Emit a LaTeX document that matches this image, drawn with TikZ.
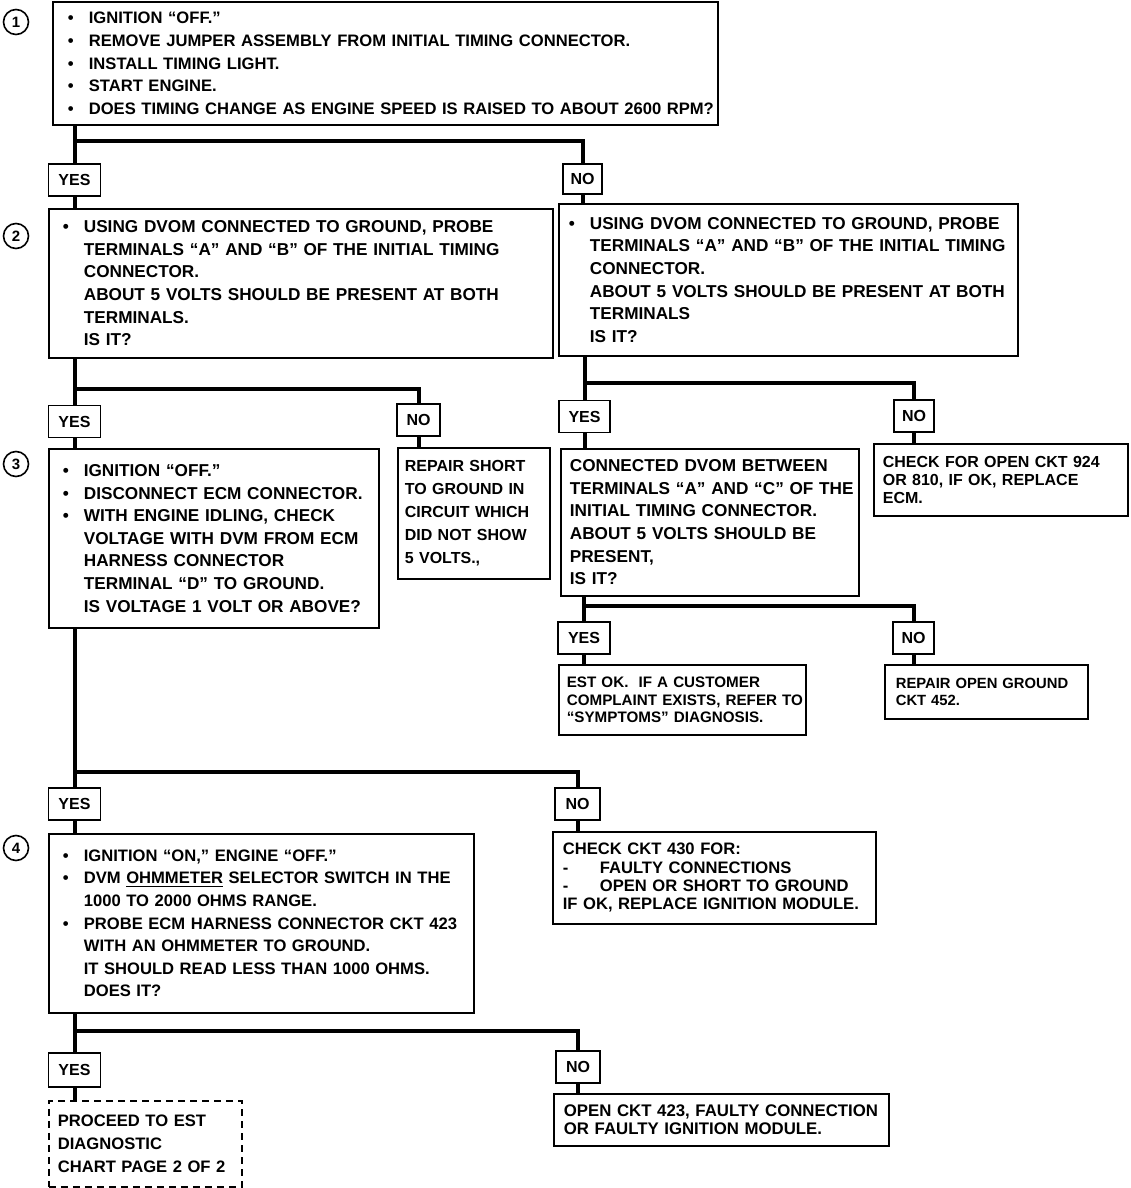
\documentclass[tikz,border=0pt]{standalone}
\usepackage{fontspec}
\setmainfont{Liberation Sans}
\usetikzlibrary{calc}
\newcommand{\bul}{\makebox[10.5pt][l]{\textbullet}}
\newcommand{\ind}{\hspace*{10.5pt}}
\newcommand{\boxinset}{7pt}
\tikzset{
  inset/.code={\def\boxinset{#1}},
  stepbox/.style={draw, line width=0.85pt, anchor=north west, align=left, inner xsep=0pt, inner ysep=2pt,
    execute at begin node={\leftskip=\boxinset\relax}, inset=7pt,
    font=\fontsize{8.6}{11.3}\selectfont\bfseries},
  notebox/.style={stepbox, inset=4.5pt, font=\fontsize{8.2}{8.9}\selectfont\bfseries},
  answer/.style={draw, line width=0.85pt, minimum width=26pt, minimum height=16pt, inner sep=1pt,
    font=\fontsize{8}{9}\selectfont\bfseries},
  num/.style={circle, draw, line width=0.8pt, minimum size=12.5pt, inner sep=0pt, font=\fontsize{7.5}{8}\selectfont\bfseries},
  conn/.style={line width=2pt}
}
\begin{document}
\begin{tikzpicture}[x=0.5pt,y=-0.5pt]
\useasboundingbox (0,0) rectangle (1130,1188);
\node[num] (num1) at (16,22) {1};
\node[num] (num2) at (16,236) {2};
\node[num] (num3) at (16,464) {3};
\node[num] (num4) at (16,848) {4};

\node[stepbox, inset=7.5pt, font=\fontsize{8.3}{11.4}\selectfont\bfseries, text width=332.5pt, minimum height=61.5pt] (b1) at (52,1)
  {\bul IGNITION ``OFF.''\\
   \bul REMOVE JUMPER ASSEMBLY FROM INITIAL TIMING CONNECTOR.\\
   \bul INSTALL TIMING LIGHT.\\
   \bul START ENGINE.\\
   \bul DOES TIMING CHANGE AS ENGINE SPEED IS RAISED TO ABOUT 2600 RPM?};
\node[answer] (y1) at (74.5,180) {YES};
\node[answer, minimum width=19.5pt, minimum height=15pt] (n1) at (582.5,179) {NO};

\node[stepbox, text width=252pt, minimum height=74.5pt] (b2L) at (48,208)
  {\bul USING DVOM CONNECTED TO GROUND, PROBE\\
   \ind TERMINALS ``A'' AND ``B'' OF THE INITIAL TIMING\\
   \ind CONNECTOR.\\
   \ind ABOUT 5 VOLTS SHOULD BE PRESENT AT BOTH\\
   \ind TERMINALS.\\
   \ind IS IT?};
\node[stepbox, inset=5pt, text width=229.5pt, minimum height=76pt] (b2R) at (558,203)
  {\bul USING DVOM CONNECTED TO GROUND, PROBE\\
   \ind TERMINALS ``A'' AND ``B'' OF THE INITIAL TIMING\\
   \ind CONNECTOR.\\
   \ind ABOUT 5 VOLTS SHOULD BE PRESENT AT BOTH\\
   \ind TERMINALS\\
   \ind IS IT?};
\node[answer] (y2) at (74.5,421.5) {YES};
\node[answer, minimum width=21.5pt] (n2) at (418.5,420) {NO};
\node[answer, minimum width=25.5pt] (y2R) at (584.5,416.5) {YES};
\node[answer, minimum width=20pt] (n2R) at (914,416) {NO};

\node[stepbox, text width=165pt, minimum height=89.5pt] (b3) at (48,448)
  {\bul IGNITION ``OFF.''\\
   \bul DISCONNECT ECM CONNECTOR.\\
   \bul WITH ENGINE IDLING, CHECK\\
   \ind VOLTAGE WITH DVM FROM ECM\\
   \ind HARNESS CONNECTOR\\
   \ind TERMINAL ``D'' TO GROUND.\\
   \ind IS VOLTAGE 1 VOLT OR ABOVE?};
\node[stepbox, inset=3.5pt, text width=76pt, minimum height=65.5pt,
  font=\fontsize{8}{11.5}\selectfont\bfseries] (r3) at (397,447)
  {REPAIR SHORT\\ TO GROUND IN\\ CIRCUIT WHICH\\ DID NOT SHOW\\ 5 VOLTS.,};
\node[stepbox, inset=4.5pt, text width=149pt, minimum height=73.5pt] (b3R) at (560,448)
  {CONNECTED DVOM BETWEEN\\
   TERMINALS ``A'' AND ``C'' OF THE\\
   INITIAL TIMING CONNECTOR.\\
   ABOUT 5 VOLTS SHOULD BE\\
   PRESENT,\\
   IS IT?};
\node[notebox, font=\fontsize{8}{8.9}\selectfont\bfseries, text width=127pt, minimum height=36pt] (c3R) at (873,443)
  {CHECK FOR OPEN CKT 924\\ OR 810, IF OK, REPLACE\\ ECM.};
\node[answer] (y3R) at (584,638) {YES};
\node[answer, minimum width=20.5pt] (n3R) at (913.5,638) {NO};
\node[notebox, inset=4pt, font=\fontsize{7.6}{8.9}\selectfont\bfseries, text width=123.5pt, minimum height=35pt] (e3R) at (558,664)
  {EST OK.\ \ IF A CUSTOMER\\ COMPLAINT EXISTS, REFER TO\\ ``SYMPTOMS'' DIAGNOSIS.};
\node[notebox, inset=5.5pt, font=\fontsize{7.4}{8.9}\selectfont\bfseries, text width=101.5pt, minimum height=27pt] (g3R) at (884,664)
  {REPAIR OPEN GROUND\\ CKT 452.};

\node[answer] (y4) at (74.5,804) {YES};
\node[answer, minimum width=22.5pt] (n4) at (577.5,804) {NO};
\node[stepbox, font=\fontsize{8.3}{11.3}\selectfont\bfseries, text width=212.5pt, minimum height=89.5pt] (b4) at (48,833)
  {\bul IGNITION ``ON,'' ENGINE ``OFF.''\\
   \bul DVM \underline{OHMMETER} SELECTOR SWITCH IN THE\\
   \ind 1000 TO 2000 OHMS RANGE.\\
   \bul PROBE ECM HARNESS CONNECTOR CKT 423\\
   \ind WITH AN OHMMETER TO GROUND.\\
   \ind IT SHOULD READ LESS THAN 1000 OHMS.\\
   \ind DOES IT?};
\node[notebox, inset=5pt, font=\fontsize{8.3}{9.2}\selectfont\bfseries, text width=161.5pt, minimum height=46pt] (c4) at (552,831)
  {CHECK CKT 430 FOR:\\
   \makebox[18.5pt][l]{-}FAULTY CONNECTIONS\\
   \makebox[18.5pt][l]{-}OPEN OR SHORT TO GROUND\\
   IF OK, REPLACE IGNITION MODULE.};

\node[answer, minimum height=17pt] (y5) at (74.5,1070) {YES};
\node[answer, minimum width=22pt] (n5) at (578,1067) {NO};
\node[stepbox, dashed, dash pattern=on 3.5pt off 2.5pt, inset=4.5pt, text width=96.5pt, minimum height=43pt,
  font=\fontsize{8.3}{11.3}\selectfont\bfseries] (p5) at (48,1100)
  {PROCEED TO EST\\ DIAGNOSTIC\\ CHART PAGE 2 OF 2};
\node[notebox, inset=5pt, font=\fontsize{8.4}{8.7}\selectfont\bfseries, text width=167.5pt, minimum height=26pt] (o5) at (553,1093)
  {OPEN CKT 423, FAULTY CONNECTION\\ OR FAULTY IGNITION MODULE.};

\draw[conn] (b1.south -| y1) -- (y1.north);
\draw[conn] ($(b1.south -| y1)!0.4!(y1.north)$) -| (n1.north);
\draw[conn] (y1.south) -- (y1.south |- b2L.north);
\draw[conn] (n1.south) -- (n1.south |- b2R.north);
\draw[conn] (b2L.south -| y2) -- (y2.north);
\draw[conn] ($(b2L.south -| y2)!0.67!(y2.north)$) -| (n2.north);
\draw[conn] (y2.south) -- (y2.south |- b3.north);
\draw[conn] (n2.south) -- (n2.south |- r3.north);
\draw[conn] (b2R.south -| y2R) -- (y2R.north);
\draw[conn] ($(b2R.south -| y2R)!0.62!(y2R.north)$) -| (n2R.north);
\draw[conn] (y2R.south) -- (y2R.south |- b3R.north);
\draw[conn] (n2R.south) -- (n2R.south |- c3R.north);
\draw[conn] (b3R.south -| y3R) -- (y3R.north);
\draw[conn] ($(b3R.south -| y3R)!0.37!(y3R.north)$) -| (n3R.north);
\draw[conn] (y3R.south) -- (y3R.south |- e3R.north);
\draw[conn] (n3R.south) -- (n3R.south |- g3R.north);
\draw[conn] (b3.south -| y4) -- (y4.north);
\draw[conn] ($(b3.south -| y4)!0.907!(y4.north)$) -| (n4.north);
\draw[conn] (y4.south) -- (y4.south |- b4.north);
\draw[conn] (n4.south) -- (n4.south |- c4.north);
\draw[conn] (b4.south -| y5) -- (y5.north);
\draw[conn] ($(b4.south -| y5)!0.44!(y5.north)$) -| (n5.north);
\draw[conn] (y5.south) -- (y5.south |- p5.north);
\draw[conn] (n5.south) -- (n5.south |- o5.north);
\end{tikzpicture}
\end{document}
